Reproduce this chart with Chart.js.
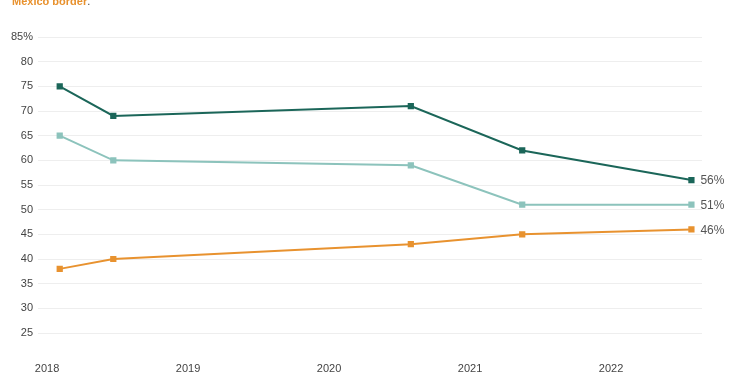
<!DOCTYPE html>
<html>
<head>
<meta charset="utf-8">
<script src="https://cdn.jsdelivr.net/npm/chart.js@4/dist/chart.umd.min.js"></script>
<style>
  html, body { margin: 0; padding: 0; background: #fff; }
  #wrap { position: relative; width: 750px; height: 375px; overflow: hidden; }
  #note { position: absolute; left: 12px; top: -4px; font: bold 11px "Liberation Sans", Arial, sans-serif; line-height: 11px; color: #e8912d; white-space: nowrap; }
  #note span { color: #444; font-weight: normal; }
</style>
</head>
<body>
<div id="wrap">
  <div id="note">Mexico border<span>.</span></div>
  <canvas id="chart" width="750" height="375"></canvas>
</div>
<script>
// ==================== Dados ====================
// posicao no tempo (anos decimais) de cada pesquisa
const pesquisas = [2018.09, 2018.47, 2020.58, 2021.37, 2022.57];
const anos = [2018, 2019, 2020, 2021, 2022];

const serieEscura = [75, 69, 71, 62, 56];
const serieClara = [65, 60, 59, 51, 51];
const serieLaranja = [38, 40, 43, 45, 46];

const corEscura = '#1b6659';
const corClara = '#8cc3bc';
const corLaranja = '#e8922f';

const FONTE = '"Liberation Sans", Arial, Helvetica, sans-serif';

function pontos(vals) {
  return vals.map((v, i) => ({ x: pesquisas[i], y: v }));
}

function dataset(vals, cor) {
  return {
    data: pontos(vals),
    borderColor: cor,
    backgroundColor: cor,
    borderWidth: 2,
    pointStyle: 'rect',
    pointRadius: 3,
    pointHoverRadius: 3,
    tension: 0
  };
}

// rotulo final de cada linha (56%, 51%, 46%)
const rotulosFinais = {
  id: 'rotulosFinais',
  afterDatasetsDraw(chart) {
    const ctx = chart.ctx;
    ctx.save();
    ctx.font = '12px ' + FONTE;
    ctx.fillStyle = '#555';
    ctx.textBaseline = 'middle';
    ctx.textAlign = 'left';
    chart.data.datasets.forEach((ds, i) => {
      const meta = chart.getDatasetMeta(i);
      const ult = meta.data[meta.data.length - 1];
      const v = ds.data[ds.data.length - 1].y;
      ctx.fillText(v + '%', ult.x + 9, ult.y + 1);
    });
    ctx.restore();
  }
};

// ==================== Grafico ====================
new Chart(document.getElementById('chart'), {
  type: 'line',
  data: {
    datasets: [
      dataset(serieEscura, corEscura),
      dataset(serieClara, corClara),
      dataset(serieLaranja, corLaranja)
    ]
  },
  options: {
    responsive: false,
    animation: false,
    layout: { padding: { top: 37, right: 48, left: 0, bottom: 0 } },
    plugins: { legend: { display: false }, tooltip: { enabled: false } },
    scales: {
      x: {
        type: 'linear',
        min: 2017.936,
        max: 2022.645,
        grid: { display: false },
        border: { display: false },
        afterBuildTicks: s => { s.ticks = anos.map(v => ({ value: v })); },
        afterFit: s => { s.height = 42; },
        ticks: {
          padding: 21,
          maxRotation: 0,
          autoSkip: false,
          color: '#444',
          font: { family: FONTE, size: 11 },
          callback: v => String(v)
        }
      },
      y: {
        min: 25,
        max: 85,
        grid: { color: '#eeeeee', lineWidth: 1, drawTicks: false },
        border: { display: false },
        afterFit: s => { s.width = 38; },
        ticks: {
          stepSize: 5,
          padding: 5,
          color: '#444',
          font: { family: FONTE, size: 11 },
          callback: v => v === 85 ? '85%' : String(v)
        }
      }
    }
  },
  plugins: [rotulosFinais]
});
</script>
</body>
</html>
